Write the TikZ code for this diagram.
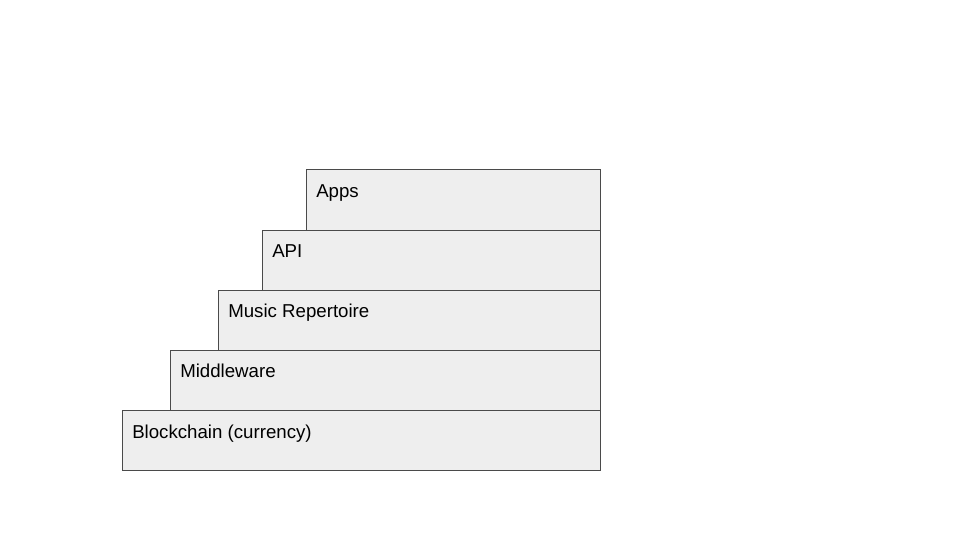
\documentclass[tikz,border=0pt]{standalone}
\usepackage{fontspec}
\setmainfont{Liberation Sans}
\definecolor{boxfill}{HTML}{EEEEEE}
\definecolor{boxline}{HTML}{4A4A4A}
\begin{document}
\begin{tikzpicture}[x=0.75pt,y=-0.75pt,
  layer/.style={draw=boxline,fill=boxfill,line width=0.75pt},
  lbl/.style={anchor=base west,inner sep=0pt,font=\fontsize{14pt}{16pt}\selectfont,text=black}]
\useasboundingbox (0,0) rectangle (960,540);
\fill[white] (0,0) rectangle (960,540);
\draw[layer] (122,410) rectangle (600,470);
\draw[layer] (170,350) rectangle (600,410);
\draw[layer] (218,290) rectangle (600,350);
\draw[layer] (262,230) rectangle (600,290);
\draw[layer] (306,169) rectangle (600,230);
\node[lbl] (blockchain) at (132,438) {Blockchain (currency)};
\node[lbl] (middleware) at (180,377) {Middleware};
\node[lbl] (music) at (228,317) {Music Repertoire};
\node[lbl] (api) at (272,257) {API};
\node[lbl] (apps) at (316,197) {Apps};
\end{tikzpicture}
\end{document}
